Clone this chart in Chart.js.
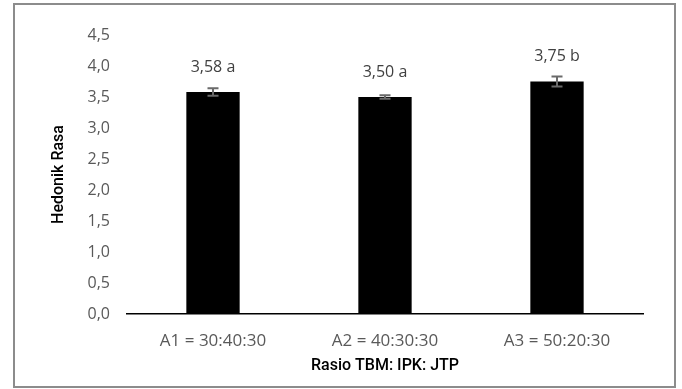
<!DOCTYPE html>
<html>
<head>
<meta charset="utf-8">
<script src="https://cdn.jsdelivr.net/npm/chart.js@4"></script>
<style>
  body { margin: 0; background: #fff; }
  #wrap { position: absolute; left: 0; top: 0; width: 682px; height: 389px; }
</style>
</head>
<body>
<div id="wrap"><canvas id="myChart" width="682" height="389"></canvas></div>
<script>
    const categories = ['A1 = 30:40:30', 'A2 = 40:30:30', 'A3 = 50:20:30'];
    const hedonikRasa = [3.58, 3.50, 3.75];
    const errors = [0.06, 0.03, 0.08];
    const notasi = ['a', 'a', 'b'];
    const yTicks = [0, 0.5, 1, 1.5, 2, 2.5, 3, 3.5, 4, 4.5];

    const tickFont = { family: 'Open Sans', size: 16 };
    const titleFont = { family: 'Roboto', size: 16, weight: '500' };

    // frame around the whole chart
    const frame = {
        id: 'frame',
        beforeDraw(chart) {
            const c = chart.ctx;
            c.save();
            c.fillStyle = '#fff';
            c.fillRect(0, 0, chart.width, chart.height);
            c.strokeStyle = '#8c8c8c';
            c.lineWidth = 2;
            c.strokeRect(14, 4, 661, 383);
            c.restore();
        }
    };

    // error bars + value labels above bars
    const errLabels = {
        id: 'errLabels',
        afterDatasetsDraw(chart) {
            const c = chart.ctx;
            const y = chart.scales.y;
            const meta = chart.getDatasetMeta(0);
            c.save();
            meta.data.forEach((bar, i) => {
                const v = hedonikRasa[i];
                const top = y.getPixelForValue(v + errors[i]);
                const bot = y.getPixelForValue(v - errors[i]);
                c.strokeStyle = '#6a6a6a';
                c.lineWidth = 2;
                c.beginPath();
                c.moveTo(bar.x, top); c.lineTo(bar.x, bot);
                c.moveTo(bar.x - 5.5, top); c.lineTo(bar.x + 5.5, top);
                c.moveTo(bar.x - 5.5, bot); c.lineTo(bar.x + 5.5, bot);
                c.stroke();
                c.fillStyle = '#404040';
                c.font = '16px "Open Sans"';
                c.textAlign = 'center';
                c.textBaseline = 'middle';
                c.fillText(v.toFixed(2).replace('.', ',') + ' ' + notasi[i], bar.x, bar.y - 25);
            });
            c.restore();
        }
    };

    const ctx = document.getElementById('myChart').getContext('2d');
    const myChart = new Chart(ctx, {
        type: 'bar',
        data: {
            labels: categories,
            datasets: [{
                data: hedonikRasa,
                backgroundColor: '#000',
                borderWidth: 0,
                barPercentage: 0.31,
                categoryPercentage: 1
            }]
        },
        options: {
            responsive: false,
            animation: false,
            layout: { padding: { left: 45, right: 39, top: 35, bottom: 9 } },
            plugins: { legend: { display: false }, tooltip: { enabled: false } },
            scales: {
                x: {
                    grid: { display: false, drawTicks: false },
                    border: { color: '#000', width: 1.5 },
                    ticks: { color: '#595959', font: { family: 'Open Sans', size: 17 }, padding: 17 },
                    title: {
                        display: true, text: 'Rasio TBM: IPK: JTP', color: '#000',
                        font: titleFont, padding: { top: 4, bottom: 4 }
                    },
                    afterFit: s => { s.height = 66; }
                },
                y: {
                    min: 0, max: 4.5,
                    afterBuildTicks: s => { s.ticks = yTicks.map(v => ({ value: v })); },
                    grid: { display: false, drawTicks: false },
                    border: { display: false },
                    ticks: {
                        color: '#595959', font: tickFont, padding: 17,
                        callback: v => v.toFixed(1).replace('.', ',')
                    },
                    title: {
                        display: true, text: 'Hedonik Rasa', color: '#000',
                        font: titleFont, padding: { top: 4, bottom: 4 }
                    },
                    afterFit: s => { s.width = 82; }
                }
            }
        },
        plugins: [frame, errLabels]
    });
</script>
</body>
</html>
